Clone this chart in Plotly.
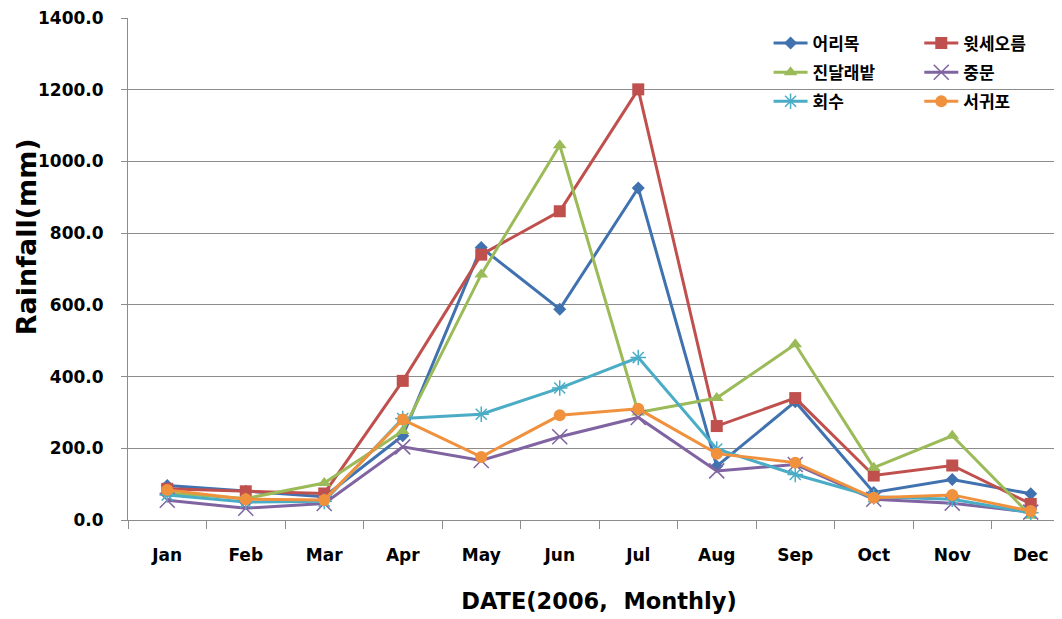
import plotly.graph_objects as go

months = ["Jan", "Feb", "Mar", "Apr", "May", "Jun", "Jul", "Aug", "Sep", "Oct", "Nov", "Dec"]

eorimok = [96, 80, 65, 235, 760, 588, 926, 150, 330, 77, 113, 73]
witseoreum = [87, 80, 74, 388, 740, 861, 1201, 262, 340, 124, 152, 45]
jindallaebat = [75, 60, 103, 248, 685, 1045, 300, 340, 490, 146, 235, 12]
jungmun = [55, 33, 46, 204, 166, 232, 286, 137, 155, 58, 47, 22]
hoesu = [70, 50, 52, 283, 295, 368, 453, 198, 127, 65, 58, 20]
seogwipo = [84, 58, 56, 280, 176, 292, 310, 185, 160, 62, 70, 25]

series_names = ["어리목", "윗세오름", "진달래밭", "중문", "회수", "서귀포"]
series_values = [eorimok, witseoreum, jindallaebat, jungmun, hoesu, seogwipo]
colors = ["#4172B0", "#C0504D", "#9BBB59", "#8064A2", "#4BACC6", "#F0913E"]
symbols = ["diamond", "square", "triangle-up", "x-thin-open", "asterisk-open", "circle"]
sizes = [10, 12, 12, 15, 13, 12]
legend_ids = ["legend", "legend2", "legend", "legend2", "legend", "legend2"]

FONT = "DejaVu Sans, Noto Sans CJK KR, sans-serif"
KFONT = "Noto Sans CJK KR"

fig = go.Figure()
for name, vals, c, s, sz, lg in zip(series_names, series_values, colors, symbols, sizes, legend_ids):
    marker = dict(symbol=s, size=sz, color=c)
    if s.endswith("open"):
        marker["line"] = dict(color=c, width=1.5)
    fig.add_trace(go.Scatter(
        x=months, y=vals, name=name, mode="lines+markers",
        line=dict(color=c, width=3), marker=marker,
        legend=lg, legendgroup=name,
    ))

leg_common = dict(
    orientation="v", yanchor="top", xanchor="left",
    bgcolor="rgba(0,0,0,0)", borderwidth=0,
    font=dict(size=17, family=KFONT, color="black", weight="bold"),
    itemwidth=34, tracegroupgap=4, traceorder="grouped",
)

fig.update_layout(
    width=1062, height=619,
    margin=dict(l=120, r=0, t=10, b=107),
    paper_bgcolor="white", plot_bgcolor="white",
    font=dict(family=FONT, color="black"),
    legend=dict(x=0.680, y=0.985, **leg_common),
    legend2=dict(x=0.840, y=0.985, **leg_common),
    showlegend=True,
    annotations=[dict(
        text="<b>Rainfall(mm)</b>", textangle=-90, showarrow=False,
        xref="paper", yref="paper", x=-0.108, y=0.5637,
        xanchor="center", yanchor="middle",
        font=dict(size=27, family=FONT, color="black"),
    )],
)
fig.update_xaxes(
    type="category", range=[-0.5, 11.5], automargin=False,
    showgrid=False, showline=True, linecolor="#8c8c8c", linewidth=1,
    ticks="outside", tickson="boundaries", ticklen=8, tickcolor="#8c8c8c",
    tickfont=dict(size=17, family=FONT, weight="bold"),
    ticklabelstandoff=20, ticklabeloverflow="allow",
    title=dict(text="<b>DATE(2006,  Monthly)</b>", font=dict(size=22.5, family=FONT), standoff=28),
)
fig.update_yaxes(
    range=[0, 1400], dtick=200, tickformat=".1f", automargin=False,
    showgrid=True, gridcolor="#8c8c8c", gridwidth=1,
    showline=True, linecolor="#8c8c8c", linewidth=1,
    ticks="outside", ticklen=6, tickcolor="#8c8c8c",
    tickfont=dict(size=17, family=FONT, weight="bold"),
    ticklabelstandoff=14, ticklabeloverflow="allow",
    zeroline=False,
)

fig.write_html("out.html")
